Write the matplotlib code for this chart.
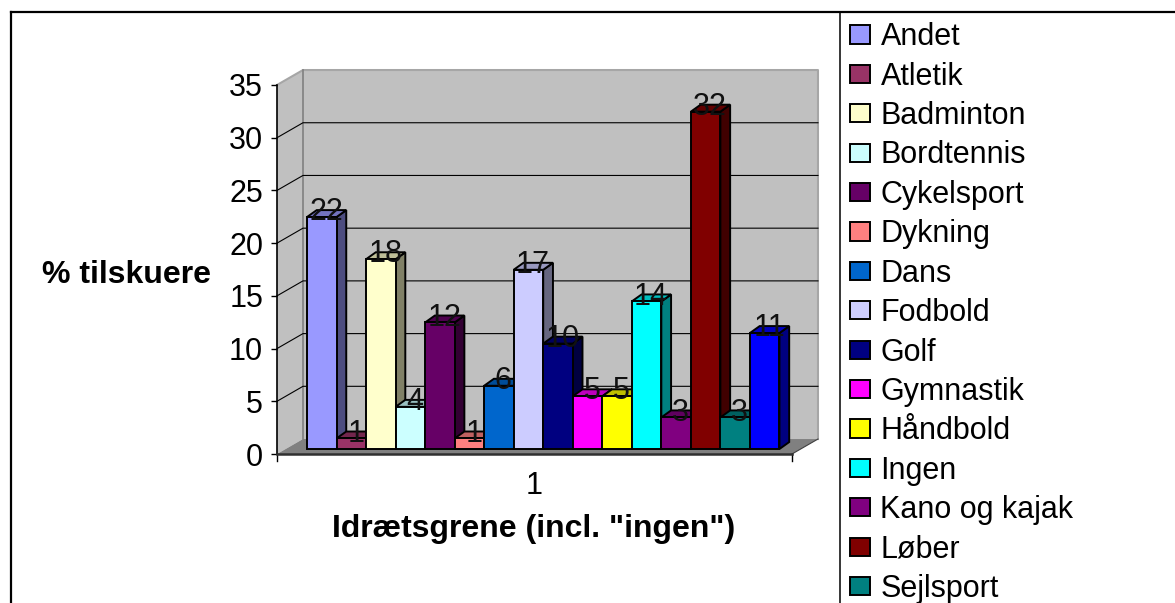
import matplotlib
matplotlib.use('Agg')
import matplotlib.pyplot as plt
from matplotlib.lines import Line2D

plt.rcParams['font.family'] = 'Liberation Sans'

# Sports and their share of spectators, the last bar has no visible legend entry
sports = ['Andet', 'Atletik', 'Badminton', 'Bordtennis', 'Cykelsport', 'Dykning', 'Dans',
          'Fodbold', 'Golf', 'Gymnastik', 'Håndbold', 'Ingen', 'Kano og kajak', 'Løber',
          'Sejlsport', '']
values = [22, 1, 18, 4, 12, 1, 6, 17, 10, 5, 5, 14, 3, 32, 3, 11]
colors = ['#9999FF', '#993366', '#FFFFCC', '#CCFFFF', '#660066', '#FF8080', '#0066CC', '#CCCCFF',
          '#000080', '#FF00FF', '#FFFF00', '#00FFFF', '#800080', '#800000', '#008080', '#0000FF']
y_ticks = [0, 5, 10, 15, 20, 25, 30, 35]


def darker(hex_color, factor):
    rgb = matplotlib.colors.to_rgb(hex_color)
    return tuple(c * factor for c in rgb)


W, H = 1175, 603
fig = plt.figure(figsize=(W / 100, H / 100), dpi=100)
ax = fig.add_axes([277 / W, 1 - 454 / H, 515 / W, 369 / H])
ax.set_xlim(-0.72, 16.72)
ax.set_ylim(0, 35)
ax.patch.set_visible(False)

# depth of the box and of the bars, in data units
wall_dx, wall_dy = 0.88, 1.42
bar_dx, bar_dy = 0.295, 0.474
side_dx, side_dy = 0.33, 0.66
x0, x1 = ax.get_xlim()

# back wall, side wall and floor
ax.fill([x0 + wall_dx, x1 + wall_dx, x1 + wall_dx, x0 + wall_dx],
        [wall_dy, wall_dy, 35 + wall_dy, 35 + wall_dy], color='#C0C0C0', lw=0, clip_on=False, zorder=0)
ax.fill([x0, x0 + wall_dx, x0 + wall_dx, x0], [0, wall_dy, 35 + wall_dy, 35],
        color='#C0C0C0', lw=0, clip_on=False, zorder=0)
ax.fill([x0, x1, x1 + wall_dx, x0 + wall_dx], [0, 0, wall_dy, wall_dy],
        color='#808080', lw=0, clip_on=False, zorder=1)
ax.plot([x0, x0 + wall_dx, x1 + wall_dx, x1 + wall_dx], [35, 35 + wall_dy, 35 + wall_dy, wall_dy],
        color='#A6A6A6', lw=1.5, clip_on=False, zorder=1)
ax.plot([x0 + wall_dx, x0 + wall_dx], [wall_dy, 35 + wall_dy], color='#808080', lw=1.2, clip_on=False, zorder=1)
ax.plot([x1, x1 + wall_dx], [0, wall_dy], color='#404040', lw=0.8, clip_on=False, zorder=1)

for v in y_ticks[1:-1]:
    ax.plot([x0, x0 + wall_dx, x1 + wall_dx], [v, v + wall_dy, v + wall_dy],
            color='black', lw=0.8, clip_on=False, zorder=1)

# bars: front face, side and top
for i, (v, c) in enumerate(zip(values, colors)):
    left = i + bar_dx
    base = bar_dy
    z = 2 + i
    ax.bar(left, v, width=1, bottom=base, align='edge', color=c, edgecolor='black', lw=1.4,
           zorder=z + 0.5, clip_on=False, label=sports[i] or None)
    ax.fill([left + 1, left + 1 + side_dx, left + 1 + side_dx, left + 1],
            [base, base + side_dy, base + v + side_dy, base + v],
            facecolor=darker(c, 0.5), edgecolor='black', lw=1.4, clip_on=False, zorder=z)
    ax.fill([left, left + side_dx, left + 1 + side_dx, left + 1],
            [base + v, base + v + side_dy, base + v + side_dy, base + v],
            facecolor=darker(c, 0.75), edgecolor='black', lw=1.4, clip_on=False, zorder=z)

for i, v in enumerate(values):
    ax.text(i + bar_dx + 0.65, v + bar_dy - 0.3, str(v), ha='center', va='baseline',
            fontsize=22, color='#111111', zorder=30, clip_on=False)

# axes
for name in ['top', 'right', 'bottom']:
    ax.spines[name].set_visible(False)
ax.spines['left'].set_linewidth(1.2)
ax.spines['left'].set_zorder(1.5)
ax.plot([x0, x1], [0, 0], color='#303030', lw=1.8, clip_on=False, zorder=1.6)
ax.set_yticks(y_ticks)
ax.set_xticks([(x0 + x1) / 2])
ax.set_xticklabels(['1'])
ax.tick_params(axis='y', labelsize=22, length=4, width=1, pad=6)
ax.tick_params(axis='x', labelsize=22, length=0, pad=12)
for x in [x0, x1]:
    ax.plot([x, x], [0, -0.65], color='black', lw=1, clip_on=False, zorder=1)

fig.text(126 / W, 1 - 275 / H, '% tilskuere', fontsize=23, fontweight='bold', ha='center', va='center')
fig.text(534 / W, 1 - 529 / H, 'Idrætsgrene (incl. "ingen")', fontsize=23, fontweight='bold',
         ha='center', va='center')

# chart border and legend divider
for xs, ys, lw in [([11, 11], [12, 603], 1.6), ([11, W], [12, 12], 1.6), ([839.5, 839.5], [12, 603], 1.1)]:
    fig.add_artist(Line2D([x / W for x in xs], [1 - y / H for y in ys], color='black', lw=lw))

handles, labels = ax.get_legend_handles_labels()
fig.legend(handles, labels, loc='upper left', bbox_to_anchor=(842 / W, 1 - 14 / H), frameon=False,
           fontsize=22, handlelength=0.66, handleheight=0.54, handletextpad=0.33,
           labelspacing=0.308, borderpad=0.27, borderaxespad=0)

fig.savefig('out.png', dpi=100)
